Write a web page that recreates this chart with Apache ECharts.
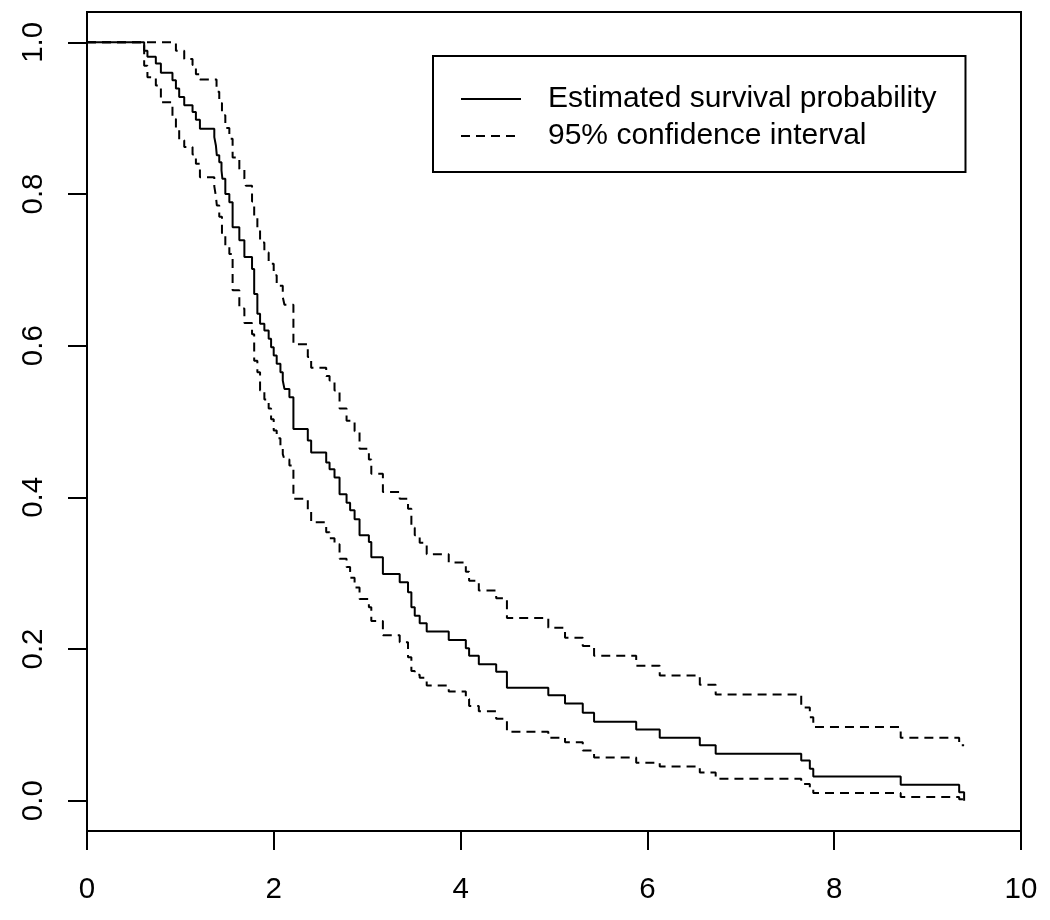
<!DOCTYPE html>
<html>
<head>
<meta charset="utf-8">
<script src="https://cdn.jsdelivr.net/npm/echarts@6/dist/echarts.min.js"></script>
<style>
  html, body { margin: 0; padding: 0; background: #fff; }
  #chart { width: 1050px; height: 920px; }
</style>
</head>
<body>
<div id="chart"></div>
<script>
// ---- Data ----
const xTicks = [0, 2, 4, 6, 8, 10];
const yTicks = [0, 0.2, 0.4, 0.6, 0.8, 1.0];

const survTimes = [0, 0.612, 0.647, 0.737, 0.791, 0.915, 0.952, 0.987, 1.041, 1.130, 1.166, 1.209, 1.363, 1.380, 1.390, 1.416, 1.440, 1.450, 1.481, 1.524, 1.559, 1.631, 1.685, 1.767, 1.790, 1.824, 1.853, 1.899, 1.945, 1.971, 1.999, 2.031, 2.071, 2.096, 2.114, 2.167, 2.210, 2.364, 2.400, 2.561, 2.597, 2.650, 2.704, 2.779, 2.817, 2.865, 2.918, 3.018, 3.044, 3.168, 3.348, 3.437, 3.473, 3.509, 3.562, 3.637, 3.873, 4.056, 4.091, 4.195, 4.381, 4.496, 4.939, 5.118, 5.308, 5.429, 5.880, 6.132, 6.561, 6.731, 7.647, 7.739, 7.776, 8.712, 9.338, 9.391];
const survValues = [1, 0.989, 0.981, 0.972, 0.960, 0.950, 0.939, 0.928, 0.917, 0.908, 0.898, 0.886, 0.875, 0.864, 0.851, 0.842, 0.831, 0.820, 0.800, 0.789, 0.756, 0.739, 0.717, 0.701, 0.668, 0.642, 0.629, 0.620, 0.609, 0.598, 0.587, 0.576, 0.565, 0.554, 0.543, 0.532, 0.490, 0.475, 0.459, 0.446, 0.437, 0.426, 0.404, 0.393, 0.383, 0.371, 0.350, 0.341, 0.321, 0.299, 0.288, 0.275, 0.255, 0.244, 0.234, 0.223, 0.212, 0.201, 0.191, 0.180, 0.170, 0.149, 0.139, 0.128, 0.116, 0.104, 0.094, 0.083, 0.073, 0.062, 0.053, 0.042, 0.032, 0.021, 0.011, 0.0];

const upperTimes = [0, 0.952, 1.041, 1.130, 1.166, 1.209, 1.387, 1.416, 1.445, 1.481, 1.524, 1.559, 1.631, 1.685, 1.700, 1.767, 1.790, 1.824, 1.853, 1.899, 1.945, 1.999, 2.031, 2.096, 2.114, 2.210, 2.364, 2.400, 2.561, 2.597, 2.650, 2.704, 2.779, 2.865, 2.918, 3.018, 3.044, 3.168, 3.348, 3.437, 3.473, 3.509, 3.562, 3.637, 3.873, 4.056, 4.091, 4.195, 4.381, 4.496, 4.939, 5.118, 5.308, 5.429, 5.880, 6.132, 6.561, 6.731, 7.647, 7.739, 7.776, 8.712, 9.338, 9.391];
const upperValues = [1, 0.989, 0.978, 0.970, 0.958, 0.951, 0.935, 0.920, 0.904, 0.887, 0.873, 0.848, 0.833, 0.820, 0.811, 0.790, 0.770, 0.756, 0.736, 0.723, 0.708, 0.693, 0.679, 0.664, 0.654, 0.602, 0.585, 0.571, 0.560, 0.554, 0.541, 0.517, 0.501, 0.487, 0.464, 0.450, 0.431, 0.407, 0.398, 0.385, 0.360, 0.350, 0.340, 0.325, 0.314, 0.302, 0.290, 0.277, 0.267, 0.241, 0.228, 0.215, 0.204, 0.191, 0.178, 0.165, 0.153, 0.140, 0.123, 0.110, 0.097, 0.083, 0.073, 0.073];

const lowerTimes = [0, 0.612, 0.647, 0.737, 0.791, 0.915, 0.952, 0.987, 1.041, 1.130, 1.166, 1.209, 1.363, 1.380, 1.390, 1.416, 1.445, 1.481, 1.524, 1.559, 1.631, 1.685, 1.767, 1.790, 1.824, 1.853, 1.899, 1.945, 1.971, 1.999, 2.031, 2.071, 2.096, 2.114, 2.167, 2.210, 2.364, 2.400, 2.561, 2.597, 2.650, 2.704, 2.779, 2.817, 2.865, 2.918, 3.018, 3.044, 3.168, 3.348, 3.437, 3.473, 3.509, 3.562, 3.637, 3.873, 4.056, 4.091, 4.195, 4.381, 4.496, 4.939, 5.118, 5.308, 5.429, 5.880, 6.132, 6.561, 6.731, 7.647, 7.739, 7.776, 8.712, 9.338, 9.391];
const lowerValues = [1, 0.969, 0.954, 0.943, 0.921, 0.899, 0.886, 0.871, 0.862, 0.852, 0.840, 0.822, 0.810, 0.797, 0.785, 0.770, 0.745, 0.730, 0.721, 0.673, 0.649, 0.630, 0.615, 0.580, 0.565, 0.541, 0.529, 0.517, 0.503, 0.488, 0.478, 0.468, 0.457, 0.450, 0.442, 0.398, 0.383, 0.367, 0.354, 0.346, 0.338, 0.319, 0.308, 0.294, 0.281, 0.266, 0.255, 0.237, 0.218, 0.209, 0.189, 0.171, 0.166, 0.162, 0.152, 0.144, 0.134, 0.125, 0.118, 0.108, 0.091, 0.083, 0.077, 0.066, 0.057, 0.050, 0.045, 0.037, 0.029, 0.022, 0.016, 0.010, 0.005, 0.002, 0.0];

const seriesNames = ['Estimated survival probability', '95% confidence interval'];

// ---- Build ----
const zip = (ts, vs) => ts.map((t, i) => [t, vs[i]]);
const FONT = '"Liberation Sans", Arial, Helvetica, sans-serif';

const chart = echarts.init(document.getElementById('chart'), null, { renderer: 'canvas' });

chart.setOption({
  animation: false,
  backgroundColor: '#ffffff',
  grid: {
    left: 87, right: 29, top: 12, bottom: 89,
    show: true, borderColor: '#000', borderWidth: 2, backgroundColor: 'transparent'
  },
  xAxis: {
    type: 'value', min: 0, max: 10, interval: 2,
    splitLine: { show: false },
    axisLine: { show: true, onZero: false, lineStyle: { color: '#000', width: 2 } },
    axisTick: { show: true, inside: false, length: 19, lineStyle: { color: '#000', width: 2 } },
    axisLabel: {
      color: '#000', fontSize: 29.5, fontFamily: FONT, margin: 44,
      customValues: xTicks, formatter: v => String(v)
    }
  },
  yAxis: {
    type: 'value', min: -0.04, max: 1.04,
    splitLine: { show: false },
    axisLine: { show: true, onZero: false, lineStyle: { color: '#000', width: 2 } },
    axisTick: { show: true, inside: false, length: 19, customValues: yTicks, lineStyle: { color: '#000', width: 2 } },
    axisLabel: {
      color: '#000', fontSize: 29.5, fontFamily: FONT, margin: 38, rotate: 90,
      customValues: yTicks, formatter: v => v.toFixed(1)
    }
  },
  legend: {
    orient: 'vertical',
    left: 433, top: 56,
    padding: [28, 29, 21, 27],
    itemWidth: 60, itemHeight: 14, itemGap: 7,
    borderColor: '#000', borderWidth: 2,
    data: seriesNames,
    selectedMode: false,
    itemStyle: { opacity: 0 },
    textStyle: { color: '#000', fontSize: 30, fontFamily: FONT, lineHeight: 30, padding: [0, 0, 0, 22] }
  },
  series: [
    {
      name: seriesNames[0], type: 'line', step: 'end', showSymbol: false, symbol: 'none',
      lineStyle: { color: '#000', width: 2, type: 'solid' },
      itemStyle: { color: '#000' },
      data: zip(survTimes, survValues)
    },
    {
      name: seriesNames[1], type: 'line', step: 'end', showSymbol: false, symbol: 'none',
      lineStyle: { color: '#000', width: 2, type: [9, 6] },
      itemStyle: { color: '#000' },
      data: zip(upperTimes, upperValues)
    },
    {
      name: seriesNames[1], type: 'line', step: 'end', showSymbol: false, symbol: 'none',
      lineStyle: { color: '#000', width: 2, type: [9, 6] },
      itemStyle: { color: '#000' },
      data: zip(lowerTimes, lowerValues)
    }
  ]
});
</script>
</body>
</html>
